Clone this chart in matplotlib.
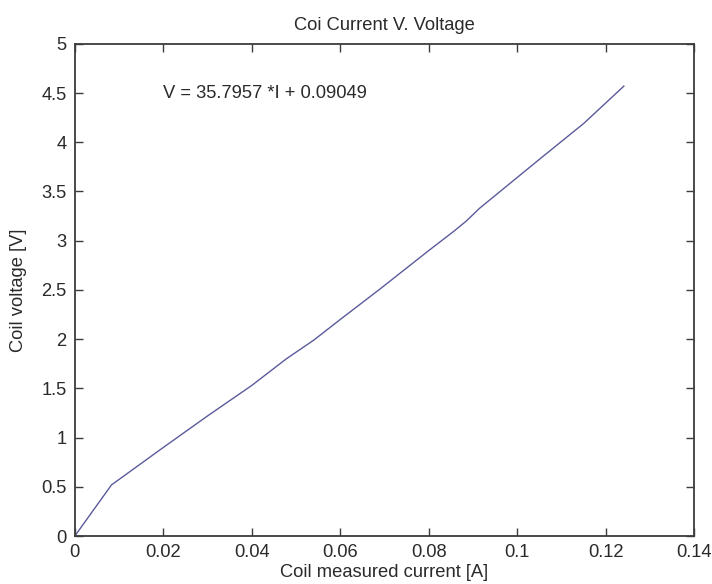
import matplotlib
matplotlib.use("Agg")
import matplotlib.pyplot as plt

# Constants
PLOT_DPI = 100
FIG_SIZE = (7.12, 5.84)
LINE_COLOR = '#5a5a9c'
AXIS_COLOR = '#3c3c3c'
FONT_SIZE = 13.2

# Measured coil current [A] and voltage [V]
current = [0.0, 0.0083, 0.0200, 0.0300, 0.0400, 0.0478, 0.0540,
           0.0600, 0.0690, 0.0800, 0.0855, 0.0885, 0.0915, 0.0964, 0.1051,
           0.1150, 0.1241]
voltage = [0.0, 0.52, 0.90, 1.22, 1.53, 1.80, 1.99,
           2.20, 2.51, 2.90, 3.09, 3.20, 3.33, 3.51, 3.83,
           4.19, 4.57]

x_ticks = [0, 0.02, 0.04, 0.06, 0.08, 0.1, 0.12, 0.14]
x_tick_labels = ['0', '0.02', '0.04', '0.06', '0.08', '0.1', '0.12', '0.14']
y_ticks = [0, 0.5, 1, 1.5, 2, 2.5, 3, 3.5, 4, 4.5, 5]
y_tick_labels = ['0', '0.5', '1', '1.5', '2', '2.5', '3', '3.5', '4', '4.5', '5']

fit_text = 'V = 35.7957 *I + 0.09049'

plt.rcParams['font.family'] = ['Liberation Sans', 'DejaVu Sans']
plt.rcParams['font.size'] = FONT_SIZE

fig = plt.figure(figsize=FIG_SIZE, dpi=PLOT_DPI)
ax = fig.add_axes([0.105, 0.082, 0.870, 0.843])

ax.plot(current, voltage, color=LINE_COLOR, linewidth=1.0)

ax.set_xlim(0, 0.14)
ax.set_ylim(0, 5)
ax.set_xticks(x_ticks)
ax.set_xticklabels(x_tick_labels)
ax.set_yticks(y_ticks)
ax.set_yticklabels(y_tick_labels)

for spine in ax.spines.values():
    spine.set_color(AXIS_COLOR)
    spine.set_linewidth(1.3)
ax.tick_params(
    direction='in',
    length=6, width=1,
    top=True, right=True,
    colors=AXIS_COLOR,
    labelcolor='#2a2a2a',
)
ax.tick_params(axis='x', pad=6)
ax.tick_params(axis='y', pad=6)

ax.text(0.02, 4.5, fit_text, ha='left', va='center', color='#2a2a2a')

ax.set_title('Coi Current V. Voltage', pad=10, fontsize=FONT_SIZE, color='#2a2a2a')
ax.set_xlabel('Coil measured current [A]', labelpad=2, color='#2a2a2a')
ax.set_ylabel('Coil voltage [V]', labelpad=10, color='#2a2a2a')

plt.savefig('out.png', dpi=PLOT_DPI)
plt.close()
